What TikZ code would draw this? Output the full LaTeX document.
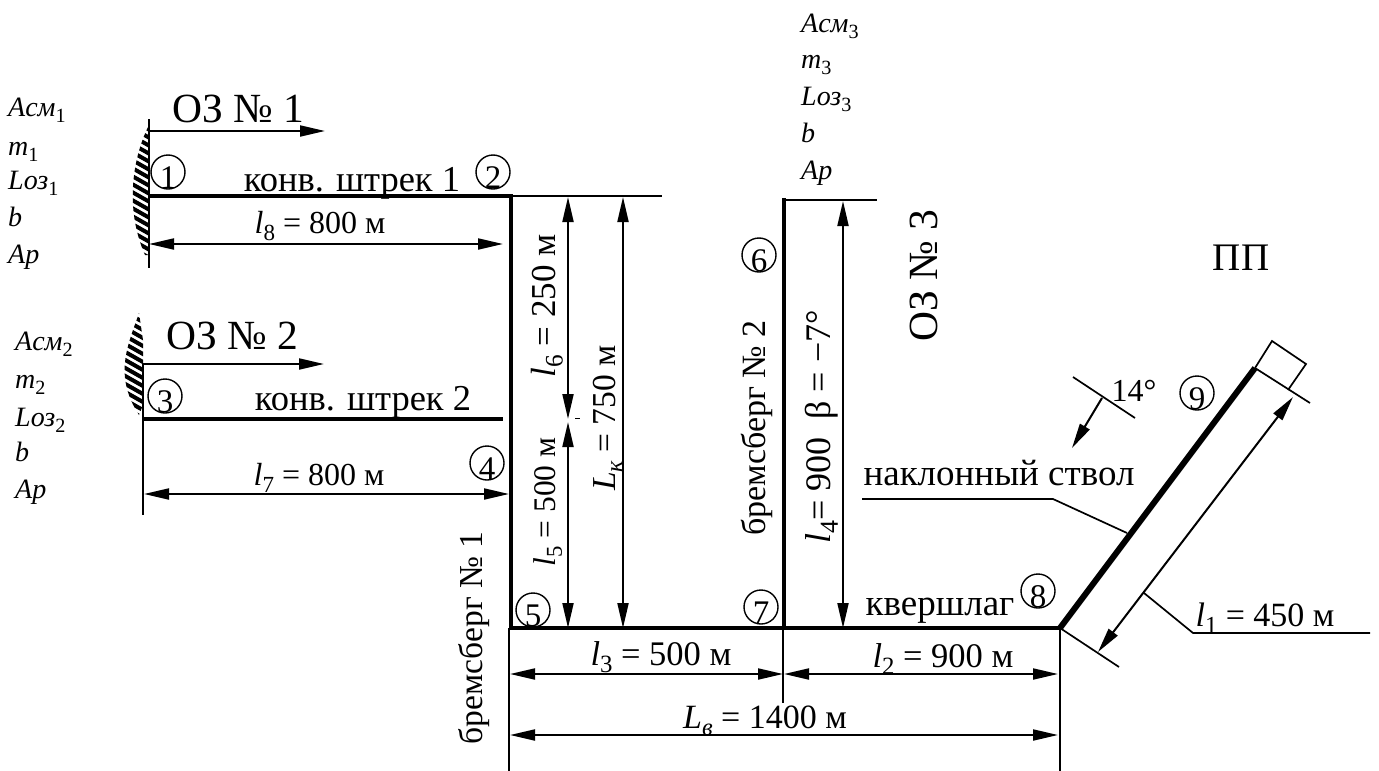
\documentclass[tikz,border=0pt]{standalone}
\usepackage{fontspec}
\setmainfont{Liberation Serif}
\usetikzlibrary{arrows.meta}
\newcommand{\sbs}[1]{\raisebox{-.22em}{\scalebox{.72}{#1}}}
\newcommand{\fs}[1]{\fontsize{#1}{#1}\selectfont}
\newcommand{\dg}[1]{\raisebox{-16pt}[0pt][0pt]{#1}}
\tikzset{
  x=1pt,y=-1pt,
  thinl/.style={line width=1.7pt},
  road/.style={line width=4pt},
  shaft/.style={line width=6pt},
  dimboth/.style={line width=2pt,{Stealth[length=25pt,width=11pt,inset=0pt]}-{Stealth[length=25pt,width=11pt,inset=0pt]}},
  dimone/.style={line width=2pt,-{Stealth[length=25pt,width=11pt,inset=0pt]}},
  lab/.style={inner sep=0pt,anchor=base},
  biglab/.style={inner sep=0pt,anchor=base,font=\fs{41.5}},
  sidelab/.style={inner sep=0pt,anchor=base west,font=\fs{28}\itshape},
  num/.style={circle,draw,line width=1.4pt,minimum size=34pt,inner sep=0pt,font=\fs{33}},
}
\begin{document}
\begin{tikzpicture}
\useasboundingbox (0,0) rectangle (1379,771);
\fill[white] (0,0) rectangle (1379,771);
% faces (hatching)
\begin{scope}
\clip (148,127) .. controls (132,160) and (125,210) .. (145,255) -- (148,255) -- cycle;
\foreach \yy in {100,108,...,270} \draw[line width=4pt] (125,\yy) -- (155,\yy+17);
\end{scope}
\begin{scope}
\clip (139,313) .. controls (128,345) and (113,375) .. (139,415) -- (143,405) -- (143,340) -- cycle;
\foreach \yy in {285,293,...,420} \draw[line width=4pt] (120,\yy) -- (150,\yy+17);
\end{scope}
% named points
\coordinate (f1t) at (149,119); \coordinate (f1b) at (149,268);
\coordinate (a1e) at (325,131); \coordinate (a1s) at (149,131);
\coordinate (p1) at (149,196); \coordinate (p2) at (511,196); \coordinate (p2e) at (662,196);
\coordinate (d8l) at (149,244); \coordinate (d8r) at (503,244);
\coordinate (f2t) at (143,364); \coordinate (f2b) at (143,515);
\coordinate (a2e) at (324,364);
\coordinate (p3) at (143,419); \coordinate (p4) at (503,419);
\coordinate (d7l) at (144,494); \coordinate (d7r) at (509,494);
\coordinate (p5) at (511,628); \coordinate (p7) at (784,628); \coordinate (p8) at (1060,628);
\coordinate (p6) at (784,200); \coordinate (p6e) at (877,200);
\coordinate (d6t) at (568,197); \coordinate (d6b) at (568,419);
\coordinate (d5t) at (568,422); \coordinate (d5b) at (568,628);
\coordinate (dkt) at (623,197); \coordinate (dkb) at (623,628);
\coordinate (d4t) at (843,201); \coordinate (d4b) at (843,628);
\coordinate (e5) at (509,628); \coordinate (e5b) at (509,771);
\coordinate (e7) at (783,628); \coordinate (e7b) at (783,703);
\coordinate (e8) at (1060,628); \coordinate (e8b) at (1060,771);
\coordinate (d3l) at (510,674); \coordinate (d3r) at (783,674);
\coordinate (d2l) at (784,674); \coordinate (d2r) at (1058,674);
\coordinate (dvl) at (510,735); \coordinate (dvr) at (1058,735);
\coordinate (p9) at (1255,368);
\coordinate (b1) at (1272,341); \coordinate (b2) at (1306,364); \coordinate (b3) at (1288,390);
\coordinate (c1) at (1310,403); \coordinate (c2) at (1119,667);
\coordinate (d1a) at (1098,652); \coordinate (d1b) at (1293,397);
\coordinate (l1a) at (1144,593); \coordinate (l1b) at (1193,633); \coordinate (l1c) at (1370,633);
\coordinate (s1) at (862,499); \coordinate (s2) at (1053,499); \coordinate (s3) at (1127,533);
\coordinate (g1) at (1073,377); \coordinate (g2) at (1135,418);
\coordinate (g3) at (1102,398); \coordinate (g4) at (1072,448);
\coordinate (tk1) at (575,418); \coordinate (tk2) at (580,418);
% thin lines
\draw[thinl] (f1t) -- (f1b);
\draw[thinl] (f2t) -- (f2b);
\draw[line width=2pt] (p2) -- (p2e);
\draw[line width=2pt] (p6) -- (p6e);
\draw[thinl] (e5) -- (e5b);
\draw[thinl] (e7) -- (e7b);
\draw[thinl] (e8) -- (e8b);
\draw[thinl] (p9) -- (c1);
\draw[thinl] (p8) -- (c2);
\draw[thinl] (p9) -- (b1) -- (b2) -- (b3);
\draw[thinl] (l1a) -- (l1b) -- (l1c);
\draw[thinl] (s1) -- (s2) -- (s3);
\draw[thinl] (g1) -- (g2);
\draw[line width=1pt] (tk1) -- (tk2);
% roads
\draw[road] (p1) -- (p2);
\draw[road] (p3) -- (p4);
\draw[road,line cap=rect] (p2) -- (p5);
\draw[road,line cap=rect] (p6) -- (p7);
\draw[road] (p5) -- (p8);
\draw[shaft] (p8) -- (p9);
% arrows
\draw[dimone] (a1s) -- (a1e);
\draw[dimone] (f2t) -- (a2e);
\draw[dimboth] (d8l) -- (d8r);
\draw[dimboth] (d7l) -- (d7r);
\draw[dimboth] (d6t) -- (d6b);
\draw[dimboth] (d5t) -- (d5b);
\draw[dimboth] (dkt) -- (dkb);
\draw[dimboth] (d4t) -- (d4b);
\draw[dimboth] (d3l) -- (d3r);
\draw[dimboth] (d2l) -- (d2r);
\draw[dimboth] (dvl) -- (dvr);
\draw[dimboth] (d1a) -- (d1b);
\draw[dimone] (g3) -- (g4);
% side labels
\node[sidelab] (a1) at (8,116) {Aсм\sbs{\upshape 1}};
\node[sidelab] (a2) at (8,155) {m\sbs{\upshape 1}};
\node[sidelab] (a3) at (8,189) {Lоз\sbs{\upshape 1}};
\node[sidelab] (a4) at (8,226) {b};
\node[sidelab] (a5) at (8,263) {Aр};
\node[sidelab] (b1n) at (15,350) {Aсм\sbs{\upshape 2}};
\node[sidelab] (b2n) at (15,388) {m\sbs{\upshape 2}};
\node[sidelab] (b3n) at (15,426) {Lоз\sbs{\upshape 2}};
\node[sidelab] (b4n) at (15,461) {b};
\node[sidelab] (b5n) at (15,498) {Aр};
\node[sidelab] (c1n) at (801,32) {Aсм\sbs{\upshape 3}};
\node[sidelab] (c2n) at (801,68) {m\sbs{\upshape 3}};
\node[sidelab] (c3n) at (801,105) {Lоз\sbs{\upshape 3}};
\node[sidelab] (c4n) at (801,142) {b};
\node[sidelab] (c5n) at (801,179) {Aр};
% titles
\node[biglab] (oz1) at (238,122) {ОЗ № 1};
\node[biglab] (oz2) at (232,349) {ОЗ № 2};
\node[biglab,rotate=90] (oz3) at (937,276) {ОЗ № 3};
\node[biglab,font=\fs{39}] (pp) at (1241,270) {ПП};
% labels
\node[lab,font=\fs{36.5}] (t1) at (352,191) {конв. штрек 1};
\node[lab,font=\fs{36.5}] (t2) at (363,410) {конв. штрек 2};
\node[lab,font=\fs{32}] (t3) at (320,233) {\textit{l}\sbs{8} = 800 м};
\node[lab,font=\fs{32}] (t4) at (319,485) {\textit{l}\sbs{7} = 800 м};
\node[lab,font=\fs{35},rotate=90] (t5) at (555,306) {\textit{l}\sbs{6} = 250 м};
\node[lab,font=\fs{31.5},rotate=90] (t6) at (555,502) {\textit{l}\sbs{5} = 500 м};
\node[lab,font=\fs{33.5},rotate=90] (t7) at (615,418) {\textit{L}\sbs{\textit{к}} = 750 м};
\node[lab,font=\fs{33.5},rotate=90] (t8) at (482,638) {бремсберг № 1};
\node[lab,font=\fs{34},rotate=90] (t9) at (765,428) {бремсберг № 2};
\node[lab,font=\fs{36},rotate=90] (t10) at (830,427) {\textit{l}\sbs{4}= 900\ \ β = −7°};
\node[lab,font=\fs{34.5}] (t11) at (661,665) {\textit{l}\sbs{3} = 500 м};
\node[lab,font=\fs{34.5}] (t12) at (943,667) {\textit{l}\sbs{2} = 900 м};
\node[lab,font=\fs{34}] (t13) at (765,728) {\textit{L}\sbs{\textit{в}} = 1400 м};
\node[lab,font=\fs{34}] (t14) at (1265,626) {\textit{l}\sbs{1} = 450 м};
\node[lab,font=\fs{37}] (t15) at (940,615) {квершлаг};
\node[lab,font=\fs{37}] (t16) at (999,485) {наклонный ствол};
\node[lab,font=\fs{32}] (t17) at (1134,401) {14°};
% numbers
\node[num] (n1) at (168,172) {\dg{1}};
\node[num] (n2) at (493,172) {\dg{2}};
\node[num] (n3) at (165,396) {\dg{3}};
\node[num] (n4) at (487,463) {\dg{4}};
\node[num] (n5) at (533,610) {\dg{5}};
\node[num] (n6) at (759,255) {\dg{6}};
\node[num] (n7) at (761,607) {\dg{7}};
\node[num] (n8) at (1038,591) {\dg{8}};
\node[num] (n9) at (1197,393) {\dg{9}};
\end{tikzpicture}
\end{document}
